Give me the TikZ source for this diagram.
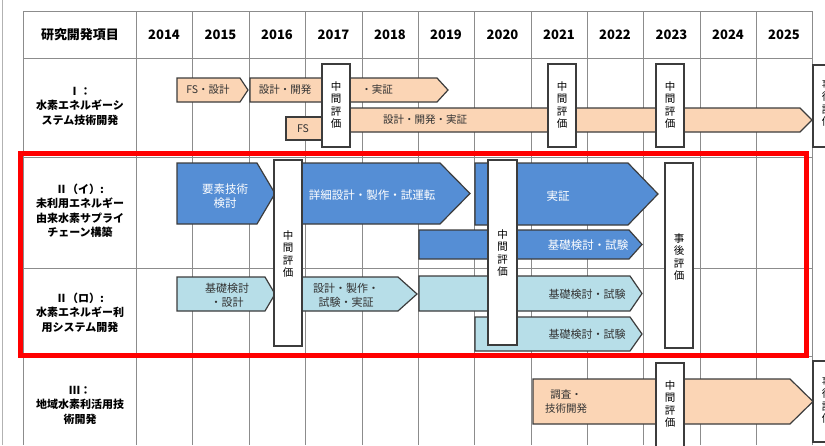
\documentclass[tikz,border=0pt]{standalone}
\usepackage{fontspec}
\setmainfont{Noto Sans CJK JP}
\definecolor{peach}{RGB}{251,213,181}
\definecolor{bblue}{RGB}{85,142,213}
\definecolor{lblue}{RGB}{183,222,232}
\definecolor{edgec}{RGB}{60,60,60}
\definecolor{gridc}{RGB}{140,140,140}
\newcommand\chevbar[6]{%
  \filldraw[#1] (#2,#5) -- (#3,#5) -- (#4,{(#5+#6)/2}) -- (#3,#6) -- (#2,#6) -- cycle;}
\tikzset{
  gridline/.style={draw=gridc, line width=0.8pt},
  barstyle/.style={draw=edgec, line width=1.2pt, line join=miter},
  peachbar/.style={barstyle, fill=peach},
  bluebar/.style={barstyle, fill=bblue},
  lbluebar/.style={barstyle, fill=lblue},
  evalbox/.style={draw=edgec, fill=white, line width=1.1pt},
  vtxt/.style={font=\fontsize{10.5}{12.5}\selectfont, align=center, inner sep=0pt},
  rowlabel/.style={font=\bfseries\fontsize{11}{14.5}\selectfont, align=center, inner sep=0pt},
  hdr/.style={font=\bfseries\fontsize{13}{15}\selectfont, inner sep=0pt},
  btxt/.style={font=\fontsize{10.5}{14}\selectfont, align=center, inner sep=0pt, text=black!80},
  wtxt/.style={font=\fontsize{11.5}{14}\selectfont, align=center, inner sep=0pt, text=white},
  ltxt/.style={font=\fontsize{11}{14}\selectfont, align=center, inner sep=0pt, text=black!80},
}
\begin{document}
\begin{tikzpicture}[x=1pt,y=-1pt]
\useasboundingbox (0,0) rectangle (825,445);
\fill[white] (0,0) rectangle (825,445);
% outer left grey line
\draw[gray!60, line width=1pt] (2,0) -- (2,445);
% grid
\foreach \yy in {11,58,157,268,356} \draw[gridline] (23,\yy) -- (812,\yy);
\foreach \xx in {23,136,192.5,249,305,362,418,474,531,587,643,700,756,812}
  \draw[gridline] (\xx,11) -- (\xx,445);
% header
\node[hdr] (h0) at (80,35) {研究開発項目};
\foreach \xx/\yr in {164/2014,220.5/2015,277/2016,333.5/2017,390/2018,446/2019,502.5/2020,559/2021,615/2022,671.5/2023,728/2024,784/2025}
  \node[hdr] (y\yr) at (\xx,35) {\yr};
% row labels
\node[rowlabel] (r1) at (80,106) {Ⅰ：\\水素エネルギーシ\\ステム技術開発};
\node[rowlabel] (r2) at (80,211) {Ⅱ（イ）:\\未利用エネルギー\\由来水素サプライ\\チェーン構築};
\node[rowlabel] (r3) at (80,312.5) {Ⅱ（ロ）:\\水素エネルギー利\\用システム開発};
\node[rowlabel] (r4) at (80,405) {Ⅲ：\\地域水素利活用技\\術開発};
% ---- Row I
\chevbar{peachbar}{177}{240}{248}{78}{102}
\node[btxt] (a1) at (208,90) {FS・設計};
\chevbar{peachbar}{250}{437}{448}{78}{102}
\node[btxt] (a2) at (285,90) {設計・開発};
\node[btxt] (a3) at (377,90) {・実証};
\filldraw[peachbar] (286,117) rectangle (330,140);
\node[btxt] (a4) at (303,129) {FS};
\chevbar{peachbar}{330}{800}{812}{108}{132}
\node[btxt] (a5) at (425,120) {設計・開発・実証};
\filldraw[evalbox] (322,64) rectangle (350,147);
\node[vtxt] (e1) at (336,105) {中\\間\\評\\価};
\filldraw[evalbox] (548,64) rectangle (576,147);
\node[vtxt] (e2) at (562,105) {中\\間\\評\\価};
\filldraw[evalbox] (656,64) rectangle (684,147);
\node[vtxt] (e3) at (670,105) {中\\間\\評\\価};
\filldraw[evalbox] (813,65) rectangle (841,147);
\node[vtxt] (e4) at (827,103) {事\\後\\評\\価};
% ---- Row II (i)
\chevbar{bluebar}{177}{257}{275}{163}{224}
\node[wtxt] (b1) at (225,196) {要素技術\\検討};
\chevbar{bluebar}{302}{440}{470}{163}{224}
\node[wtxt] (b2) at (372,195) {詳細設計・製作・試運転};
\chevbar{bluebar}{475}{628}{658}{163}{225}
\node[wtxt] (b3) at (558,196) {実証};
\chevbar{bluebar}{419}{629}{642}{230}{259}
\node[wtxt] (b4) at (588,245) {基礎検討・試験};
% ---- Row II (ro)
\chevbar{lbluebar}{177}{265}{275}{277}{311}
\node[ltxt] (c1) at (227,295) {基礎検討\\・設計};
\chevbar{lbluebar}{302}{398}{417}{277}{311}
\node[ltxt] (c2) at (346,295) {設計・製作・\\試験・実証};
\chevbar{lbluebar}{419}{630}{642}{276}{311}
\node[ltxt] (c3) at (587,294) {基礎検討・試験};
\chevbar{lbluebar}{475}{630}{642}{317}{351}
\node[ltxt] (c4) at (587,334) {基礎検討・試験};
% tall eval boxes
\filldraw[evalbox] (274,160) rectangle (302,346);
\node[vtxt] (e5) at (288,254) {中\\間\\評\\価};
\filldraw[evalbox] (488,160) rectangle (517,345);
\node[vtxt] (e6) at (502.5,253) {中\\間\\評\\価};
\filldraw[evalbox] (665,163) rectangle (693,348);
\node[vtxt] (e7) at (679,257) {事\\後\\評\\価};
% ---- Row III
\chevbar{peachbar}{533}{790}{813}{379}{424}
\node[btxt] (d1) at (566,402) {調査・\\技術開発};
\filldraw[evalbox] (656,363) rectangle (684,452);
\node[vtxt] (e8) at (670,404) {中\\間\\評\\価};
\filldraw[evalbox] (813,361) rectangle (841,442);
\node[vtxt] (e9) at (827,400) {事\\後\\評\\価};
% red highlight
\draw[red, line width=5pt] (20,153) rectangle (806,355);
\end{tikzpicture}
\end{document}
